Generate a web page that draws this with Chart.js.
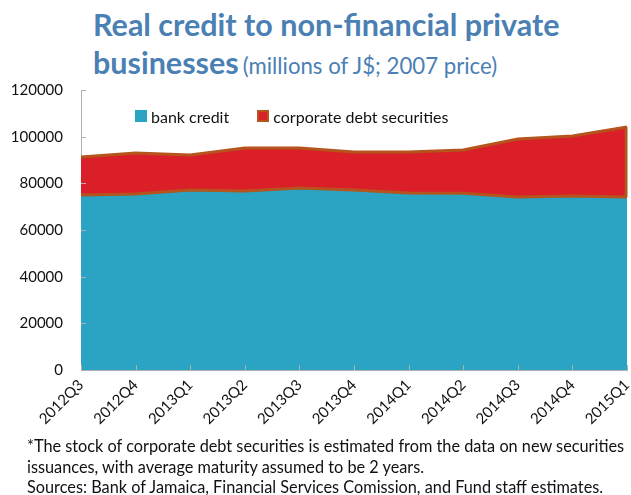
<!DOCTYPE html>
<html>
<head>
<meta charset="utf-8">
<script src="https://cdn.jsdelivr.net/npm/chart.js@4/dist/chart.umd.min.js"></script>
<style>
  html, body { margin: 0; padding: 0; background: #fff; }
  body { width: 631px; height: 495px; position: relative; overflow: hidden; font-family: Lato, "Open Sans", sans-serif; color: #111; }
  #title { position: absolute; left: 93px; top: 0; color: #4a80b3; white-space: nowrap; }
  #title .l1 { position: absolute; left: 0; top: 5px; line-height: 38px; }
  #title .l2 { position: absolute; left: 0; top: 43px; line-height: 38px; }
  #title .b { font-weight: bold; font-size: 30.5px; }
  #title .n { font-weight: normal; font-size: 22.2px; }
  #chartWrap { position: absolute; left: 0; top: 80px; width: 631px; height: 360px; }
  #legend { position: absolute; top: 106px; left: 135px; font-size: 16px; white-space: nowrap; }
  #legend span.item { display: inline-flex; align-items: center; }
  #legend i { display: inline-block; width: 12px; height: 12px; margin-right: 4px; box-sizing: border-box; }
  #notes { position: absolute; left: 27px; top: 436px; font-size: 16.3px; line-height: 20.5px; white-space: nowrap; }
</style>
</head>
<body>
<div id="title">
  <div class="l1"><span class="b">Real credit to non-financial private</span></div>
  <div class="l2"><span class="b">businesses</span> <span class="n">(millions of J$; 2007 price)</span></div>
</div>
<div id="chartWrap"><canvas id="c" width="631" height="360"></canvas></div>
<div id="legend">
  <span class="item" style="margin-right:24px"><i style="background:#2ba3c2"></i>bank credit</span>
  <span class="item"><i style="background:#da1f28;border:2px solid #b5541c"></i>corporate debt securities</span>
</div>
<div id="notes">
  <div>*The stock of corporate debt securities is estimated from the data on new securities</div>
  <div>issuances, with average maturity assumed to be 2 years.</div>
  <div>Sources: Bank of Jamaica, Financial Services Comission, and Fund staff estimates.</div>
</div>
<script>
// Quarterly real credit, millions of J$ at 2007 prices
const quarters = ['2012Q3','2012Q4','2013Q1','2013Q2','2013Q3','2013Q4','2014Q1','2014Q2','2014Q3','2014Q4','2015Q1'];
const bankCredit = [75000, 75400, 77100, 76700, 78000, 77100, 75900, 75700, 74100, 74600, 74100];
const corporateDebt = [16300, 17600, 15000, 18400, 17100, 16300, 17500, 18600, 24900, 25700, 30000];
const yTicks = [0, 20000, 40000, 60000, 80000, 100000, 120000];

const BLUE = '#2ba3c2', RED = '#da1f28', BROWN = '#b5541c', AXIS = '#b0b0b0';

// cumulative top of the securities band
const totalCredit = bankCredit.map((v, i) => v + corporateDebt[i]);

// inward tick marks plus the closing edge of the securities band
const decorations = {
  id: 'decorations',
  afterDatasetsDraw(chart) {
    const { ctx, scales: { x, y }, chartArea } = chart;
    ctx.save();
    const last = quarters.length - 1;
    const xr = x.getPixelForValue(last);
    ctx.strokeStyle = BROWN;
    ctx.lineWidth = 3;
    ctx.beginPath();
    ctx.moveTo(xr - 1, y.getPixelForValue(bankCredit[last]));
    ctx.lineTo(xr - 1, y.getPixelForValue(totalCredit[last]));
    ctx.stroke();
    ctx.strokeStyle = AXIS;
    ctx.lineWidth = 1;
    ctx.beginPath();
    yTicks.forEach(v => {
      const py = Math.round(y.getPixelForValue(v)) + 0.5;
      ctx.moveTo(chartArea.left, py);
      ctx.lineTo(chartArea.left + 5, py);
    });
    quarters.forEach((q, i) => {
      const px = Math.round(x.getPixelForValue(i)) + 0.5;
      ctx.moveTo(px, chartArea.bottom);
      ctx.lineTo(px, chartArea.bottom - 5);
    });
    ctx.stroke();
    ctx.restore();
  }
};

new Chart(document.getElementById('c'), {
  type: 'line',
  data: {
    labels: quarters,
    datasets: [
      { label: 'bank credit', data: bankCredit, fill: 'origin', backgroundColor: BLUE,
        borderWidth: 0, borderColor: BLUE, pointRadius: 0, tension: 0, order: 2 },
      { label: 'corporate debt securities', data: totalCredit, fill: '-1', backgroundColor: RED,
        borderColor: BROWN, borderWidth: 3, pointRadius: 0, tension: 0, order: 1 },
      { label: 'band base', data: bankCredit, fill: false, borderColor: BROWN,
        borderWidth: 3, pointRadius: 0, tension: 0, order: 0 }
    ]
  },
  options: {
    responsive: false,
    animation: false,
    events: [],
    layout: { padding: { top: 10, right: 4, left: 0, bottom: 0 } },
    plugins: { legend: { display: false }, tooltip: { enabled: false }, title: { display: false } },
    scales: {
      x: {
        offset: false,
        grid: { display: false, drawTicks: false },
        border: { display: true, color: AXIS, width: 1 },
        ticks: { maxRotation: 45, minRotation: 45, padding: 6, color: '#111',
                 font: { family: 'Lato', size: 15 } },
        afterFit(s) { s.height = 70; s.paddingLeft = 0; s.paddingRight = 0; }
      },
      y: {
        min: 0, max: 120000,
        grid: { display: false, drawTicks: false },
        border: { display: true, color: AXIS, width: 1 },
        afterBuildTicks(s) { s.ticks = yTicks.map(v => ({ value: v })); },
        ticks: { padding: 18, color: '#111', font: { family: 'Lato', size: 15 },
                 callback: v => String(v) },
        afterFit(s) { s.width = 81; s.paddingTop = 0; s.paddingBottom = 0; }
      }
    }
  },
  plugins: [decorations]
});
</script>
</body>
</html>
